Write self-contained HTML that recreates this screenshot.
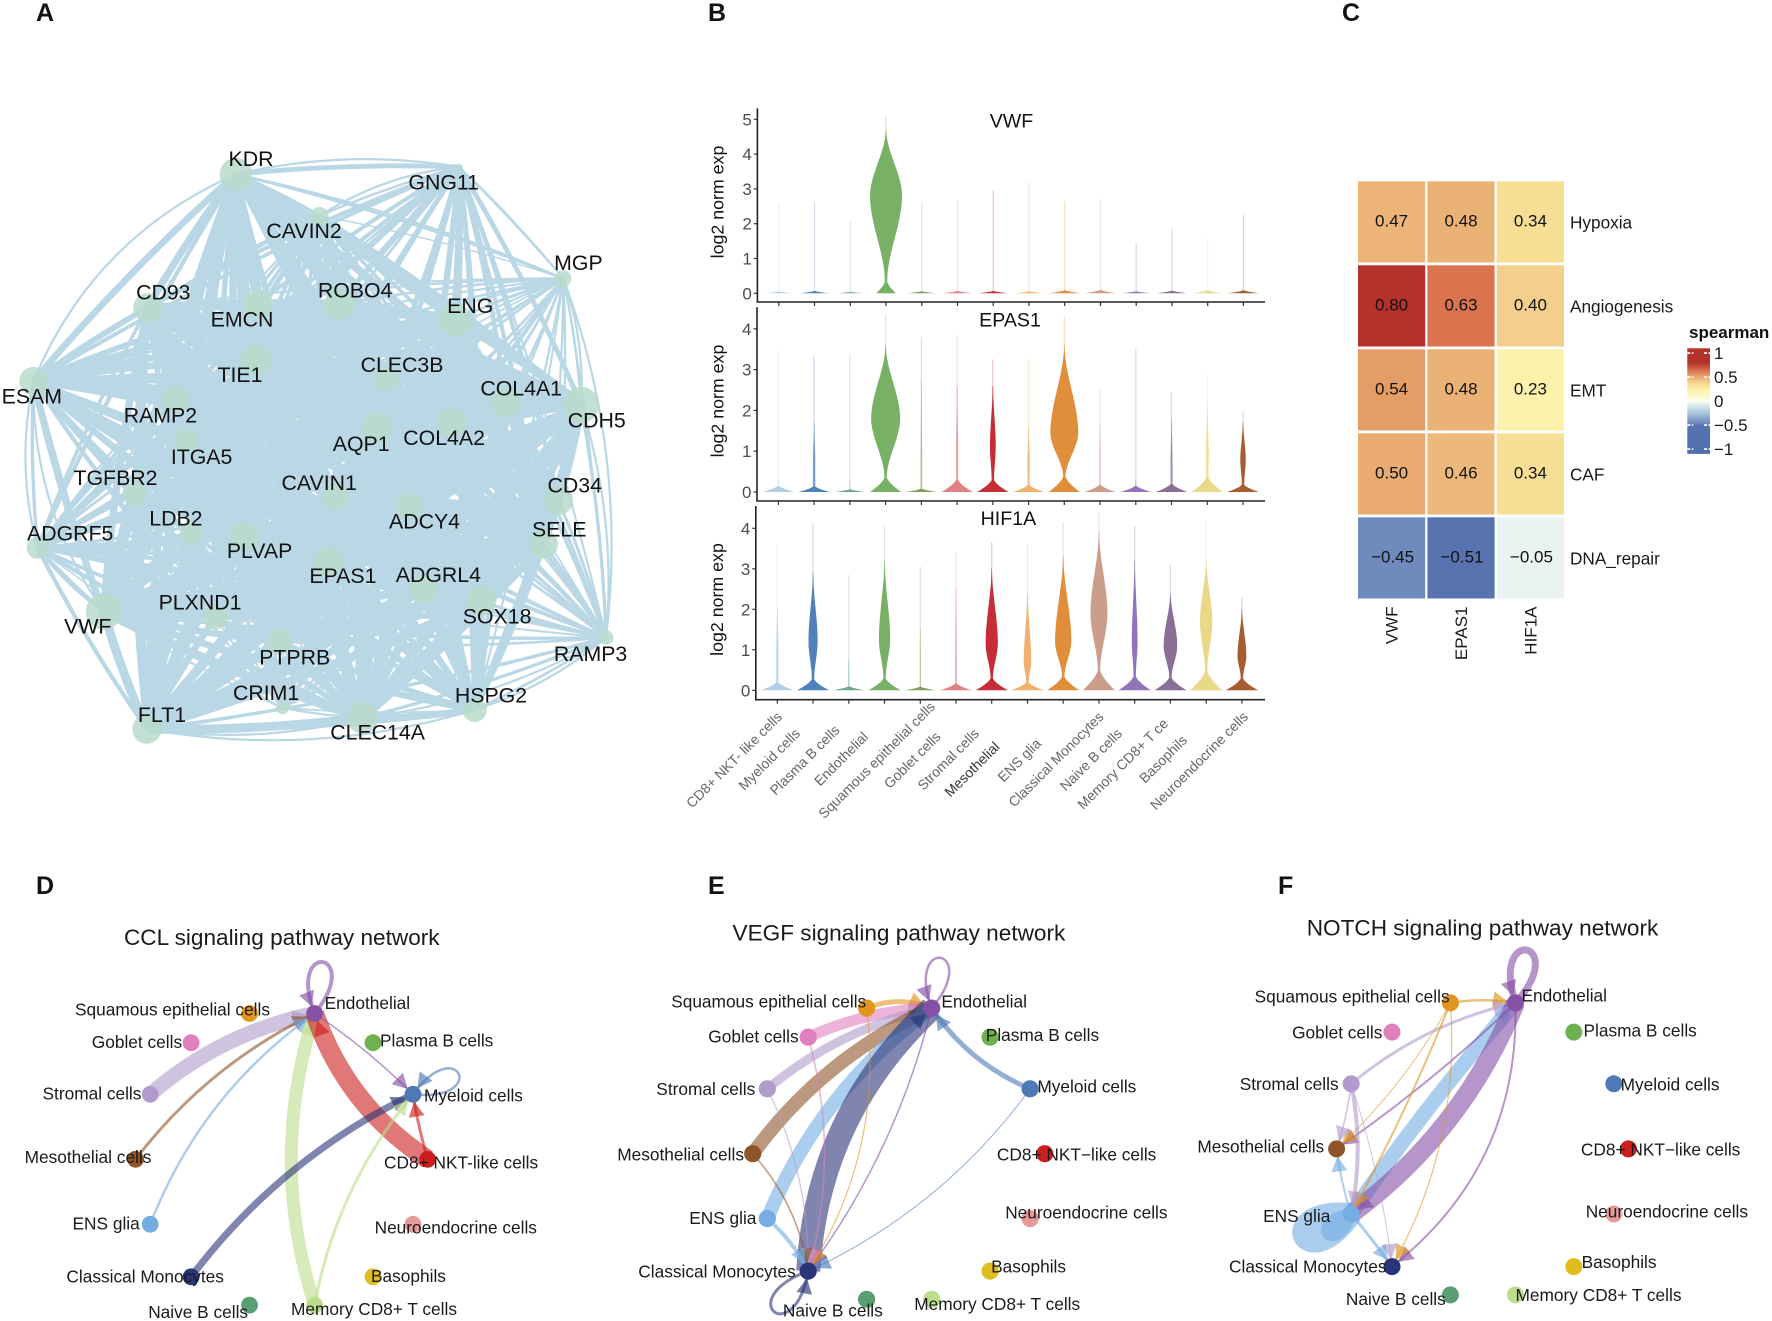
<!DOCTYPE html>
<html lang="en">
<head>
<meta charset="utf-8">
<title>Multi-panel gene expression and signaling figure</title>
<style>
html,body{margin:0;padding:0;background:#fff;}
svg{display:block;font-family:"Liberation Sans",sans-serif;}
text{font-family:"Liberation Sans",sans-serif;}
.plabel{font-size:25px;font-weight:bold;fill:#111;}
.nl{font-size:17.3px;fill:#1a1a1a;}
.nt{font-size:22.6px;fill:#1a1a1a;text-anchor:middle;}
</style>
</head>
<body>
<svg id="fig" xmlns="http://www.w3.org/2000/svg" width="1772" height="1321" viewBox="0 0 1772 1321">
<rect width="1772" height="1321" fill="#fff"/>
<text class="plabel" x="36" y="21">A</text>
<text class="plabel" x="708" y="21">B</text>
<text class="plabel" x="1342" y="21">C</text>
<text class="plabel" x="36" y="894">D</text>
<text class="plabel" x="708" y="894">E</text>
<text class="plabel" x="1278" y="894">F</text>

<g id="panelA"></g>
<g id="panelB"></g>
<g id="panelC"></g>
<g id="panelD"></g>
<g id="panelE"></g>
<g id="panelF"></g>

<g>
<text class="nt" x="281.8" y="945">CCL signaling pathway network</text>
<text class="nl" x="324.6" y="1009">Endothelial</text>
<text class="nl" x="75" y="1015.7">Squamous epithelial cells</text>
<text class="nl" x="91.8" y="1048">Goblet cells</text>
<text class="nl" x="380" y="1046.7">Plasma B cells</text>
<text class="nl" x="42.5" y="1099.7">Stromal cells</text>
<text class="nl" x="424" y="1101.3">Myeloid cells</text>
<text class="nl" x="24.6" y="1163">Mesothelial cells</text>
<text class="nl" x="384" y="1168.7">CD8+ NKT-like cells</text>
<text class="nl" x="72.5" y="1229.3">ENS glia</text>
<text class="nl" x="374.6" y="1233.3">Neuroendocrine cells</text>
<text class="nl" x="66.4" y="1282.7">Classical Monocytes</text>
<text class="nl" x="371" y="1282">Basophils</text>
<text class="nl" x="148.2" y="1318">Naive B cells</text>
<text class="nl" x="291" y="1315">Memory CD8+ T cells</text>
</g>
<g>
<text class="nt" x="898.9" y="940.7">VEGF signaling pathway network</text>
<text class="nl" x="941.4" y="1007.3">Endothelial</text>
<text class="nl" x="671.2" y="1007.7">Squamous epithelial cells</text>
<text class="nl" x="708.3" y="1042.7">Goblet cells</text>
<text class="nl" x="985.8" y="1041">Plasma B cells</text>
<text class="nl" x="656.3" y="1095">Stromal cells</text>
<text class="nl" x="1037.4" y="1092.7">Myeloid cells</text>
<text class="nl" x="617.2" y="1160.7">Mesothelial cells</text>
<text class="nl" x="996.9" y="1160.7">CD8+ NKT−like cells</text>
<text class="nl" x="689.2" y="1224">ENS glia</text>
<text class="nl" x="1005.2" y="1218.3">Neuroendocrine cells</text>
<text class="nl" x="638.3" y="1277.7">Classical Monocytes</text>
<text class="nl" x="991.1" y="1272.7">Basophils</text>
<text class="nl" x="782.9" y="1316.7">Naive B cells</text>
<text class="nl" x="914.2" y="1310">Memory CD8+ T cells</text>
</g>
<g>
<text class="nt" x="1482.5" y="935.7">NOTCH signaling pathway network</text>
<text class="nl" x="1521.5" y="1001.7">Endothelial</text>
<text class="nl" x="1254.6" y="1002.7">Squamous epithelial cells</text>
<text class="nl" x="1292.1" y="1038.3">Goblet cells</text>
<text class="nl" x="1583.5" y="1036.7">Plasma B cells</text>
<text class="nl" x="1239.7" y="1090">Stromal cells</text>
<text class="nl" x="1620.6" y="1090.7">Myeloid cells</text>
<text class="nl" x="1197.4" y="1152.3">Mesothelial cells</text>
<text class="nl" x="1580.9" y="1155.7">CD8+ NKT−like cells</text>
<text class="nl" x="1263.1" y="1222">ENS glia</text>
<text class="nl" x="1585.7" y="1217.3">Neuroendocrine cells</text>
<text class="nl" x="1229" y="1272.7">Classical Monocytes</text>
<text class="nl" x="1581.6" y="1268">Basophils</text>
<text class="nl" x="1345.9" y="1305">Naive B cells</text>
<text class="nl" x="1515.5" y="1301">Memory CD8+ T cells</text>
</g>
</svg>

<script>
/* ---------- Panel A data: gene co-expression network ---------- */
const geneNames = ["KDR","GNG11","CAVIN2","MGP","CD93","EMCN","ROBO4","ENG","ESAM","TIE1","CLEC3B","COL4A1","CDH5","RAMP2","AQP1","COL4A2","ITGA5","TGFBR2","CAVIN1","CD34","ADCY4","LDB2","PLVAP","ADGRF5","SELE","EPAS1","ADGRL4","SOX18","VWF","PLXND1","PTPRB","RAMP3","CRIM1","HSPG2","CLEC14A","FLT1"];
const geneLayoutX = [578,1125,783,1380,362,632,832,1115,82,627,948,1240,1424,432,925,1106,455,330,822,1368,1003,468,598,92,1332,805,1037,1180,254,527,685,1485,692,1163,888,360];
const geneLayoutY = [133,115,235,388,460,450,452,490,640,587,635,692,698,686,752,742,786,915,922,932,947,1012,1022,1048,1040,1082,1150,1178,1205,1218,1278,1268,1440,1445,1465,1492];
const geneDegree = [40,8,22,20,36,35,38,40,35,38,30,36,44,34,37,36,30,30,32,36,33,28,35,27,35,36,35,36,44,30,32,18,16,30,38,36];
const geneStrength = [1,.7,.6,.45,.9,.9,1,1,.85,1,.7,.95,1,.9,.95,.9,.75,.75,.8,.95,.85,.7,.9,.65,.9,.95,.9,.95,1,.75,.85,.55,.4,.85,1,1];
const geneLabelX = [615,1087,745,1417,400,593,870,1152,78,588,985,1277,1462,393,885,1088,494,283,782,1408,1040,431,636,172,1370,840,1074,1218,215,490,722,1447,652,1203,925,397];
const geneLabelY = [115,173,291,370,442,508,437,475,697,644,620,677,756,743,813,799,845,897,909,915,1003,996,1076,1033,1023,1137,1134,1236,1261,1202,1336,1328,1424,1430,1520,1477];
const hullFrom = ["KDR","KDR","GNG11","ESAM","ESAM","ADGRF5","FLT1","FLT1","CLEC14A","HSPG2","CDH5","MGP","GNG11","KDR","MGP"];
const hullTo   = ["ESAM","GNG11","CAVIN2","ADGRF5","VWF","VWF","CLEC14A","HSPG2","RAMP3","RAMP3","RAMP3","RAMP3","MGP","MGP","CDH5"];
const hullBend = [.2,.1,.12,.12,.16,.08,.1,.12,.1,.1,.1,.12,.02,.05,.1];

/* ---------- Panel B data: violin plots ---------- */
const violinCells = ["CD8+ NKT- like cells","Myeloid cells","Plasma B cells","Endothelial","Squamous epithelial cells","Goblet cells","Stromal cells","Mesothelial","ENS glia","Classical Monocytes","Naive B cells","Memory CD8+ T ce","Basophils","Neuroendocrine cells"];
const violinColors = ["#aecde6","#4a7db8","#6aa886","#74ad60","#7d9a55","#e07d82","#c4262e","#edb069","#e08a35","#c99b88","#8d70b8","#866b94","#e8d782","#a2592b"];

const vwfMax     = [2.6,2.6,2.05,5.1,2.6,2.65,2.95,3.2,2.65,2.7,1.45,1.85,1.6,2.25];
const vwfBodyTop = [.05,.07,.04,4.7,.06,.07,.07,.06,.09,.1,.06,.08,.09,.09];
const vwfMode    = [.05,.07,.04,2.8,.06,.07,.07,.06,.09,.1,.06,.08,.09,.09];
const vwfPeak    = [0,0,0,.94,0,0,0,0,0,0,0,0,0,0];
const vwfBase    = [.88,.9,.88,.58,.9,.9,.9,.88,.92,.92,.88,.9,.9,.92];
const vwfFlare   = [.05,.07,.04,.34,.06,.07,.07,.06,.09,.1,.06,.08,.09,.09];

const epas1Max     = [3.45,3.35,3.35,4.35,3.8,3.85,3.25,3.25,4.3,2.5,3.5,2.45,2.9,1.95];
const epas1BodyTop = [.3,1.7,.3,3.6,2.8,2.6,2.6,1.6,3.6,1.7,.3,1.8,2.1,1.7];
const epas1Mode    = [.2,.7,.2,1.8,.6,1,1.1,.7,1.45,.9,.2,.7,.9,.8];
const epas1Peak    = [0,.07,0,.85,.05,.06,.17,.08,.82,.04,.02,.06,.09,.16];
const epas1Base    = [.92,.92,.9,.92,.92,.92,.92,.92,.92,.92,.9,.92,.92,.93];
const epas1Flare   = [.16,.14,.07,.36,.08,.3,.3,.17,.38,.18,.16,.2,.36,.18];

const hif1aMax     = [3.6,4.1,2.85,4.05,3.05,3.4,3.65,3.6,4.15,4.4,4.05,3.1,4.2,2.3];
const hif1aBodyTop = [2,2.9,.8,3.2,1.5,2.5,3,2.4,3.3,3.9,3.2,2.4,3.2,2];
const hif1aMode    = [1,1.2,.4,1.25,.6,.9,1.15,.7,1.2,1.9,1.2,1.1,1.7,.85];
const hif1aPeak    = [.07,.27,.03,.33,.03,.05,.36,.22,.48,.5,.17,.4,.36,.26];
const hif1aBase    = [.95,.95,.93,.95,.93,.95,.95,.95,.95,.95,.95,.95,.95,.95];
const hif1aFlare   = [.2,.28,.1,.3,.09,.17,.3,.2,.35,.5,.35,.32,.48,.3];

const vwfTicks = [0,1,2,3,4,5];
const epas1Ticks = [0,1,2,3,4];
const hif1aTicks = [0,1,2,3,4];

/* ---------- Panel C data: correlation heatmap ---------- */
const heatCols = ["VWF","EPAS1","HIF1A"];
const heatRows = ["Hypoxia","Angiogenesis","EMT","CAF","DNA_repair"];
const hypoxiaValues = [.47,.48,.34];
const angiogenesisValues = [.80,.63,.40];
const emtValues = [.54,.48,.23];
const cafValues = [.50,.46,.34];
const dnaRepairValues = [-.45,-.51,-.05];
const legendTicks = [1,.5,0,-.5,-1];
const colorStopValues = [-1.1,-.51,-.45,-.25,-.05,0,.23,.34,.4,.47,.54,.63,.8,1.1];
const colorStopHex = ["#4f6fad","#5773b0","#6f8bbd","#a9c4dc","#e8f3f2","#fdfdea","#fcf2ab","#f6de95","#f2cf8a","#ecb577","#e59d66","#da744e","#b5312b","#b5312b"];

/* ---------- Panels D-F data: signaling networks ---------- */
const END=0,SQU=1,GOB=2,PLA=3,STR=4,MYE=5,MES=6,CD8=7,ENS=8,NEU=9,CLA=10,BAS=11,NAI=12,MEM=13;
const ringX = [.226,-.22,-.62,.626,-.9,.9,-1,1,-.9,.9,-.62,.626,-.22,.226];
const ringY = [-1,-1,-.8,-.8,-.446,-.446,0,0,.446,.446,.806,.806,1,1];
const cellColors = ["#8650a6","#e0961f","#e07fbd","#6fb050","#b19bcc","#4d7ab5","#8f5428","#cc1e1e","#74ade2","#e89a9a","#2a3478","#e0bd1e","#5a9e74","#bcdd8c"];
const cellKeys = ["endothelial","squamous","goblet","plasma","stromal","myeloid","mesothelial","cd8","ens","neuroendocrine","classical","basophils","naive","memory"];

const cclFrom   = [STR,MES,ENS,MEM,CD8,END,CD8,CLA,MEM];
const cclTo     = [END,END,END,END,END,MYE,MYE,MYE,MYE];
const cclWeight = [15,3,2.5,13,19,1.5,3,7,3];
const cclBend   = [.13,.12,.15,.16,.17,.05,.03,.12,.13];
const cclLoopNode = [END,MYE];
const cclLoopWeight = [4,2.5];
const cclLoopAngle = [-81,-24];
const cclLoopSize = [52,50];

const vegfFrom   = [SQU,GOB,STR,MES,ENS,CLA,MYE,END,SQU,GOB,STR,MES,ENS,MYE];
const vegfTo     = [END,END,END,END,END,END,END,CLA,CLA,CLA,CLA,CLA,CLA,CLA];
const vegfWeight = [5,11,9,14,14,24,5,1.5,1.2,1.5,1.2,1.5,4,1];
const vegfBend   = [.2,.1,.12,.13,.14,.2,.15,.1,.18,.14,.12,.15,.1,.13];
const vegfLoopNode = [END,CLA];
const vegfLoopWeight = [2.5,3];
const vegfLoopAngle = [-80,130];
const vegfLoopSize = [51,53];

const notchFrom   = [SQU,STR,ENS,END,END,END,SQU,SQU,SQU,STR,STR,STR,ENS,ENS];
const notchTo     = [END,END,END,ENS,MES,CLA,MES,ENS,CLA,MES,ENS,CLA,MES,CLA];
const notchWeight = [2.5,3,15,19,2,2,1,2,1.2,1.5,4,1,2,3];
const notchBend   = [.08,.12,.03,.14,.04,.25,.08,.03,.15,.05,.1,.05,.05,.02];
const notchLoopNode = [END,ENS,ENS];
const notchLoopWeight = [7,22,12];
const notchLoopAngle = [-78,155,140];
const notchLoopSize = [54,52,30];

/* ---------- helpers ---------- */
const NS = "http://www.w3.org/2000/svg";
function mk(tag, attrs, parent){
  const e = document.createElementNS(NS, tag);
  for (const k in attrs) e.setAttribute(k, attrs[k]);
  parent.appendChild(e);
  return e;
}
function fx(v){ return v.toFixed(1); }
function slug(s){ return s.toLowerCase().replace(/[^a-z0-9]+/g,'-').replace(/^-|-$/g,''); }

/* ---------- Panel A ---------- */
(function(){
  const g = document.getElementById('panelA');
  const sx = u => u/2.45;
  const sy = u => 120+u/2.45;
  const n = geneNames.length;
  let cx=0, cy=0;
  for(let i=0;i<n;i++){cx+=sx(geneLayoutX[i])/n;cy+=sy(geneLayoutY[i])/n;}
  function arc(i,j,bend){
    const x1=sx(geneLayoutX[i]),y1=sy(geneLayoutY[i]),x2=sx(geneLayoutX[j]),y2=sy(geneLayoutY[j]);
    const mx=(x1+x2)/2,my=(y1+y2)/2,dx=x2-x1,dy=y2-y1,len=Math.hypot(dx,dy)||1;
    let nx=dy/len,ny=-dx/len;
    if((mx-cx)*nx+(my-cy)*ny<0){nx=-nx;ny=-ny;}
    return "M"+fx(x1)+" "+fx(y1)+"Q"+fx(mx+nx*bend*len)+" "+fx(my+ny*bend*len)+" "+fx(x2)+" "+fx(y2);
  }
  for(let i=0;i<n;i++){
    for(let j=i+1;j<n;j++){
      const s=geneStrength[i]*geneStrength[j];
      const w=.9+8*s*s;
      const edge=mk('path',{d:arc(i,j,.035),fill:'none',stroke:'#b9d7e5','stroke-width':w.toFixed(2)},g);
      
      
    }
  }
  hullFrom.forEach((name,k)=>{
    const edge=mk('path',{d:arc(geneNames.indexOf(name),geneNames.indexOf(hullTo[k]),hullBend[k]),fill:'none',stroke:'#b9d7e5','stroke-width':2.2},g);
    
    
  });
  for(let i=0;i<n;i++){
    const c=mk('circle',{cx:fx(sx(geneLayoutX[i])),cy:fx(sy(geneLayoutY[i])),r:fx(geneDegree[i]/2.45),fill:'#b8dacb','fill-opacity':.85},g);
    
    
  }
  for(let i=0;i<n;i++){
    const t=mk('text',{x:fx(sx(geneLabelX[i])),y:fx(sy(geneLabelY[i])-1),'text-anchor':'middle','font-size':'21.3',fill:'#111'},g);
    
    
    t.textContent=geneNames[i];
  }
})();

/* ---------- Panel B ---------- */
(function(){
  const g = document.getElementById('panelB');
  const panels = [
    {gene:"VWF",axisX:757.4,top:108.3,bottom:302,zero:293.3,unit:34.8,tick0:778.8,titleX:1011.5,titleY:127.3,labelX:717.5,labelY:202,ticks:vwfTicks,max:vwfMax,bodyTop:vwfBodyTop,mode:vwfMode,peak:vwfPeak,base:vwfBase,flare:vwfFlare},
    {gene:"EPAS1",axisX:757,top:307.3,bottom:501,zero:492,unit:40.8,tick0:778.4,titleX:1010,titleY:326.7,labelX:717.5,labelY:401,ticks:epas1Ticks,max:epas1Max,bodyTop:epas1BodyTop,mode:epas1Mode,peak:epas1Peak,base:epas1Base,flare:epas1Flare},
    {gene:"HIF1A",axisX:755.8,top:506,bottom:699.7,zero:690.3,unit:40.5,tick0:777.3,titleX:1008.4,titleY:525,labelX:716.8,labelY:599.5,ticks:hif1aTicks,max:hif1aMax,bodyTop:hif1aBodyTop,mode:hif1aMode,peak:hif1aPeak,base:hif1aBase,flare:hif1aFlare}
  ];
  const step = 35.74, halfBand = 17;
  const labelDx = [5.7,-12,-8.3,-15.5,15.7,-14.5,-11.7,-27,-21.2,5.5,-11.7,-1.4,-18.2,7.1];
  const labelDy = [18,34.7,31.3,38,8,38,34.7,48,44.7,18,34.7,24.7,41.3,18];
  const smooth = t => t*t*(3-2*t);
  panels.forEach(p=>{
    const gs = slug(p.gene);
    const yOf = v => p.zero - v*p.unit;
    const xOf = i => p.tick0 + i*step;
    violinCells.forEach((cell,i)=>{
      const tail=mk('line',{x1:fx(xOf(i)),x2:fx(xOf(i)),y1:fx(yOf(0)),y2:fx(yOf(p.max[i])),stroke:violinColors[i],'stroke-width':1.3,'stroke-opacity':.25},g);
      
      
      const neck = p.peak[i]>0 ? Math.min(.07,p.peak[i]) : .015;
      const fl=p.flare[i], top=Math.max(p.bodyTop[i],fl), md=Math.max(p.mode[i],fl+.001), pk=Math.max(p.peak[i],neck);
      const dens = v=>{
        if(v<=fl){const t=fl>0?v/fl:1;return neck+(p.base[i]-neck)*Math.pow(1-t,1.45);}
        if(v<=md){return neck+(pk-neck)*smooth((v-fl)/(md-fl));}
        const t=(v-md)/Math.max(top-md,.001);
        return .015+(pk-.015)*(1-smooth(Math.min(t,1)));
      };
      const outline=(from,to,N)=>{
        const L=[],R=[];
        for(let k=0;k<=N;k++){
          const v=from+(to-from)*k/N, w=dens(v)*halfBand;
          L.push(fx(xOf(i)-w)+" "+fx(yOf(v)));
          R.unshift(fx(xOf(i)+w)+" "+fx(yOf(v)));
        }
        return "M"+L.join("L")+"L"+R.join("L")+"Z";
      };
      if(top>fl){
        const body=mk('path',{d:outline(fl,top,40),fill:violinColors[i],'fill-opacity':p.peak[i]>.15?.97:(p.peak[i]>.05?.7:.5)},g);
        
        
      }
      const foot=mk('path',{d:outline(0,fl,12),fill:violinColors[i],'fill-opacity':.97},g);
      
      
    });
    const yAxis=mk('line',{x1:p.axisX,x2:p.axisX,y1:p.top,y2:p.bottom,stroke:'#222','stroke-width':1.6},g);
    
    
    const xAxis=mk('line',{x1:p.axisX-.8,x2:1265,y1:p.bottom,y2:p.bottom,stroke:'#222','stroke-width':1.6},g);
    
    
    p.ticks.forEach(v=>{
      const tk=mk('line',{x1:p.axisX-3.5,x2:p.axisX,y1:fx(yOf(v)),y2:fx(yOf(v)),stroke:'#333','stroke-width':1.2},g);
      
      
      const tl=mk('text',{x:p.axisX-5.5,y:fx(yOf(v)+6),'text-anchor':'end','font-size':17,fill:'#4d4d4d'},g);
      
      
      tl.textContent=v;
    });
    violinCells.forEach((cell,i)=>{
      const tk=mk('line',{x1:fx(xOf(i)),x2:fx(xOf(i)),y1:p.bottom,y2:p.bottom+4,stroke:'#333','stroke-width':1.2},g);
      
      
    });
    const title=mk('text',{x:p.titleX,y:p.titleY,'text-anchor':'middle','font-size':19.6,fill:'#111'},g);
    
    
    title.textContent=p.gene;
    const yl=mk('text',{transform:'translate('+(p.labelX+6)+' '+p.labelY+') rotate(-90)','text-anchor':'middle','font-size':17.8,fill:'#111'},g);
    
    
    yl.textContent='log2 norm exp';
  });
  const last=panels[2];
  violinCells.forEach((cell,i)=>{
    const ex=last.tick0+i*step+labelDx[i], ey=last.bottom+labelDy[i];
    const t=mk('text',{transform:'translate('+fx(ex)+' '+fx(ey)+') rotate(-45)','text-anchor':'end','font-size':14,fill:cell==='Mesothelial'?'#333':'#666'},g);
    
    
    t.textContent=cell;
  });
})();

/* ---------- Panel C ---------- */
(function(){
  const g = document.getElementById('panelC');
  const hexRgb = h=>[parseInt(h.substr(1,2),16),parseInt(h.substr(3,2),16),parseInt(h.substr(5,2),16)];
  function colorOf(v){
    for(let i=1;i<colorStopValues.length;i++){
      if(v<=colorStopValues[i]){
        const a=hexRgb(colorStopHex[i-1]),b=hexRgb(colorStopHex[i]);
        const t=(v-colorStopValues[i-1])/(colorStopValues[i]-colorStopValues[i-1]);
        return 'rgb('+a.map((c,k)=>Math.round(c+(b[k]-c)*t)).join(',')+')';
      }
    }
    return colorStopHex[colorStopHex.length-1];
  }
  const rowsData=[hypoxiaValues,angiogenesisValues,emtValues,cafValues,dnaRepairValues];
  const xBand=i=>1358+i*69.4, yBand=j=>181.3+j*84;
  const cw=67.2, ch=81.2;
  rowsData.forEach((row,j)=>{
    row.forEach((v,i)=>{
      const r=mk('rect',{x:fx(xBand(i)),y:fx(yBand(j)),width:cw,height:ch,fill:colorOf(v)},g);
      
      
      const t=mk('text',{x:fx(xBand(i)+cw/2+(v<0?1:0)),y:fx(yBand(j)+ch/2+4.8),'text-anchor':'middle','font-size':17,fill:'#111'},g);
      
      
      t.textContent=(v<0?'−':'')+Math.abs(v).toFixed(2);
    });
    const rl=mk('text',{x:1570,y:fx(yBand(j)+ch/2+6.4),'font-size':17.2,fill:'#1a1a1a'},g);
    
    
    rl.textContent=heatRows[j];
  });
  heatCols.forEach((c,i)=>{
    const t=mk('text',{transform:'translate('+fx(xBand(i)+cw/2+6)+' 606.5) rotate(-90)','text-anchor':'end','font-size':17,fill:'#1a1a1a'},g);
    
    
    t.textContent=c;
  });
  const defs=mk('defs',{},g);
  const grad=mk('linearGradient',{id:'legendGrad',x1:0,y1:0,x2:0,y2:1},defs);
  for(let i=colorStopValues.length-1;i>=0;i--){
    mk('stop',{offset:((1.1-colorStopValues[i])/2.2).toFixed(3),'stop-color':colorStopHex[i]},grad);
  }
  const ly=v=>401.1-48*v;
  const lt=mk('text',{x:1689,y:338,'font-size':17,'font-weight':'bold',fill:'#111'},g);
  
  
  lt.textContent='spearman';
  const bar=mk('rect',{x:1687.3,y:fx(ly(1.1)),width:22.7,height:fx(ly(-1.1)-ly(1.1)),fill:'url(#legendGrad)'},g);
  
  
  legendTicks.forEach(v=>{
    [[1687.3,1693.3],[1704,1710]].forEach(seg=>{
      const d=mk('line',{x1:seg[0],x2:seg[1],y1:fx(ly(v)),y2:fx(ly(v)),stroke:'#fff','stroke-width':1.6,'stroke-dasharray':'3 1.5'},g);
      
      
    });
    const t=mk('text',{x:1714,y:fx(ly(v)+6),'font-size':17,fill:'#1a1a1a'},g);
    
    
    t.textContent=(v<0?'−':'')+Math.abs(v);
  });
})();

/* ---------- Panels D-F ---------- */
function drawNetwork(id, prefix, cx, cy, rx, ry, nodeR, from, to, weight, bend, loopNode, loopWeight, loopAngle, loopSize){
  const g=document.getElementById(id);
  const X=i=>cx+ringX[i]*rx, Y=i=>cy+ringY[i]*ry;
  function arrow(px,py,qx,qy,color){
    const d=Math.hypot(qx-px,qy-py)||1, ux=(qx-px)/d, uy=(qy-py)/d;
    const tx=qx-ux*(nodeR-1), ty=qy-uy*(nodeR-1), L=15, H=8;
    const bx=tx-ux*L, by=ty-uy*L;
    return mk('path',{d:"M"+fx(tx)+" "+fx(ty)+"L"+fx(bx-uy*H)+" "+fx(by+ux*H)+"L"+fx(bx+uy*H)+" "+fx(by-ux*H)+"Z",fill:color,'fill-opacity':.65},g);
  }
  from.forEach((s,k)=>{
    const t=to[k], x1=X(s),y1=Y(s),x2=X(t),y2=Y(t);
    const dx=x2-x1,dy=y2-y1,len=Math.hypot(dx,dy);
    const qx=(x1+x2)/2+dy/len*bend[k]*len, qy=(y1+y2)/2-dx/len*bend[k]*len;
    const e=mk('path',{d:"M"+fx(x1)+" "+fx(y1)+"Q"+fx(qx)+" "+fx(qy)+" "+fx(x2)+" "+fx(y2),fill:'none',stroke:cellColors[s],'stroke-width':weight[k],'stroke-opacity':.6},g);
    
    
    const a=arrow(qx,qy,x2,y2,cellColors[s]);
    
    
  });
  loopNode.forEach((n,k)=>{
    const px=X(n),py=Y(n),ang=loopAngle[k]*Math.PI/180,sp=30*Math.PI/180,d=loopSize[k]*1.54;
    const c1x=px+d*Math.cos(ang+sp),c1y=py+d*Math.sin(ang+sp);
    const c2x=px+d*Math.cos(ang-sp),c2y=py+d*Math.sin(ang-sp);
    const big=loopWeight[k]>=8;
    const e=mk('path',{d:"M"+fx(px)+" "+fx(py)+"C"+fx(c1x)+" "+fx(c1y)+" "+fx(c2x)+" "+fx(c2y)+" "+fx(px)+" "+fx(py),fill:big?cellColors[n]:'none',stroke:cellColors[n],'stroke-width':loopWeight[k],'stroke-linejoin':'round',opacity:.6},g);
    
    
    if(!big){
      const a=arrow(c2x,c2y,px,py,cellColors[n]);
      
      
    }
  });
  cellKeys.forEach((key,i)=>{
    const c=mk('circle',{cx:fx(X(i)),cy:fx(Y(i)),r:nodeR,fill:cellColors[i]},g);
    
    
  });
}
drawNetwork('panelD','ccl',281.6,1159.3,146,145.8,8.4,cclFrom,cclTo,cclWeight,cclBend,cclLoopNode,cclLoopWeight,cclLoopAngle,cclLoopSize);
drawNetwork('panelE','vegf',898.7,1153.7,146,145.6,8.6,vegfFrom,vegfTo,vegfWeight,vegfBend,vegfLoopNode,vegfLoopWeight,vegfLoopAngle,vegfLoopSize);
drawNetwork('panelF','notch',1482.5,1148.9,145.9,146,8.5,notchFrom,notchTo,notchWeight,notchBend,notchLoopNode,notchLoopWeight,notchLoopAngle,notchLoopSize);
</script>
</body>
</html>
